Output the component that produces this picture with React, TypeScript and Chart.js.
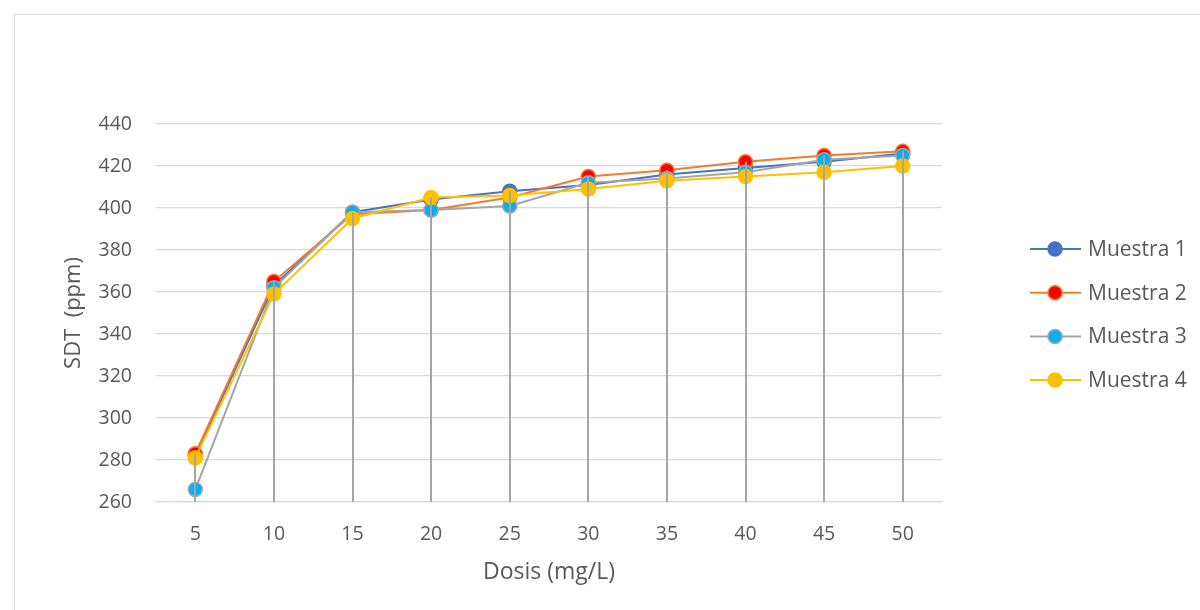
import React, { useEffect, useRef } from "react";
import { Chart, registerables } from "chart.js";

Chart.register(...registerables);

const dosis = ["5", "10", "15", "20", "25", "30", "35", "40", "45", "50"];
const muestra1 = [282, 363, 398, 404, 408, 411, 416, 419, 422, 426];
const muestra2 = [283, 365, 397, 399, 405, 415, 418, 422, 425, 427];
const muestra3 = [266, 362, 398, 399, 401, 412, 414, 417, 423, 425];
const muestra4 = [281, 359, 395, 405, 406, 409, 413, 415, 417, 420];
const seriesNames = ["Muestra 1", "Muestra 2", "Muestra 3", "Muestra 4"];
const yTitle = "SDT  (ppm)";
const xTitle = "Dosis (mg/L)";
const yMin = 260;
const yMax = 440;
const yStep = 20;

const FONT = "'Open Sans', 'Noto Sans', sans-serif";
const TEXT = "#595959";

const dropLines = {
  id: "dropLines",
  afterDatasetsDraw(chart: any) {
    const { ctx, scales } = chart;
    const xs = scales.x;
    const ys = scales.y;
    const ds = chart.data.datasets;
    ctx.save();
    ctx.strokeStyle = "#a5a5a5";
    ctx.lineWidth = 2;
    for (let i = 0; i < chart.data.labels.length; i++) {
      let max = -Infinity;
      ds.forEach((d: any) => {
        if (d.data[i] > max) max = d.data[i];
      });
      const x = Math.round(xs.getPixelForValue(i));
      ctx.beginPath();
      ctx.moveTo(x, ys.getPixelForValue(max));
      ctx.lineTo(x, ys.getPixelForValue(yMin));
      ctx.stroke();
    }
    ctx.restore();
  },
};

const sideLegend = {
  id: "sideLegend",
  afterDraw(chart: any) {
    const { ctx } = chart;
    const x0 = 1015;
    const y0 = 234;
    const gap = 43.7;
    ctx.save();
    chart.data.datasets.forEach((d: any, i: number) => {
      const y = y0 + i * gap;
      ctx.strokeStyle = d.borderColor;
      ctx.lineWidth = 2;
      ctx.beginPath();
      ctx.moveTo(x0, y);
      ctx.lineTo(x0 + 51, y);
      ctx.stroke();
      ctx.beginPath();
      ctx.arc(x0 + 25, y, 7, 0, Math.PI * 2);
      ctx.fillStyle = d.pointBackgroundColor;
      ctx.fill();
      ctx.lineWidth = 1.5;
      ctx.strokeStyle = d.pointBorderColor;
      ctx.stroke();
      ctx.fillStyle = TEXT;
      ctx.font = `21px ${FONT}`;
      ctx.textAlign = "left";
      ctx.textBaseline = "middle";
      ctx.fillText(d.label, x0 + 58, y + 1);
    });
    ctx.restore();
  },
};

export default function App() {
  const ref = useRef<HTMLCanvasElement>(null);
  useEffect(() => {
    const mk = (label: string, data: number[], line: string, fill: string, border: string, order: number) => ({
      label,
      data,
      borderColor: line,
      backgroundColor: fill,
      pointBackgroundColor: fill,
      pointBorderColor: border,
      pointBorderWidth: 1.5,
      pointRadius: 7,
      borderWidth: 2,
      tension: 0,
      order,
    });
    const chart = new Chart(ref.current as HTMLCanvasElement, {
      type: "line",
      data: {
        labels: dosis,
        datasets: [
          mk(seriesNames[0], muestra1, "#4472c4", "#4472c4", "#4472c4", 4),
          mk(seriesNames[1], muestra2, "#ed7d31", "#ff0000", "#ed7d31", 3),
          mk(seriesNames[2], muestra3, "#a5a5a5", "#00b0f0", "#a5a5a5", 2),
          mk(seriesNames[3], muestra4, "#ffc000", "#ffc000", "#ffc000", 1),
        ],
      },
      options: {
        animation: false,
        responsive: false,
        devicePixelRatio: 1,
        layout: { padding: { left: 41, top: 109, right: 258, bottom: 13 } },
        plugins: { legend: { display: false }, tooltip: { enabled: false } },
        scales: {
          x: {
            offset: true,
            grid: { display: false, drawTicks: false },
            border: { color: "#d9d9d9", width: 1.3 },
            ticks: { color: TEXT, font: { family: FONT, size: 19.5 }, padding: 21, maxRotation: 0 },
            title: { display: true, text: xTitle, color: TEXT, font: { family: FONT, size: 23 }, padding: { top: 0, bottom: 11 } },
            afterFit: (s: any) => {
              s.height = 95;
            },
          },
          y: {
            min: yMin,
            max: yMax,
            ticks: { stepSize: yStep, color: TEXT, font: { family: FONT, size: 19.5 }, padding: 24 },
            grid: { color: "#d9d9d9", lineWidth: 1.3, drawTicks: false },
            border: { display: false },
            title: { display: true, text: yTitle, color: TEXT, font: { family: FONT, size: 22 }, padding: { top: 5, bottom: 0 } },
            afterFit: (s: any) => {
              s.width = 100;
            },
          },
        },
      },
      plugins: [dropLines, sideLegend],
    });
    return () => chart.destroy();
  }, []);
  return (
    <div
      style={{
        position: "absolute",
        left: 14,
        top: 14,
        width: 1186,
        height: 596,
        boxSizing: "border-box",
        borderTop: "1px solid #d9d9d9",
        borderLeft: "1px solid #d9d9d9",
        background: "#fff",
        overflow: "hidden",
      }}
    >
      <canvas ref={ref} width={1185} height={595} style={{ display: "block", width: 1185, height: 595 }} />
    </div>
  );
}
